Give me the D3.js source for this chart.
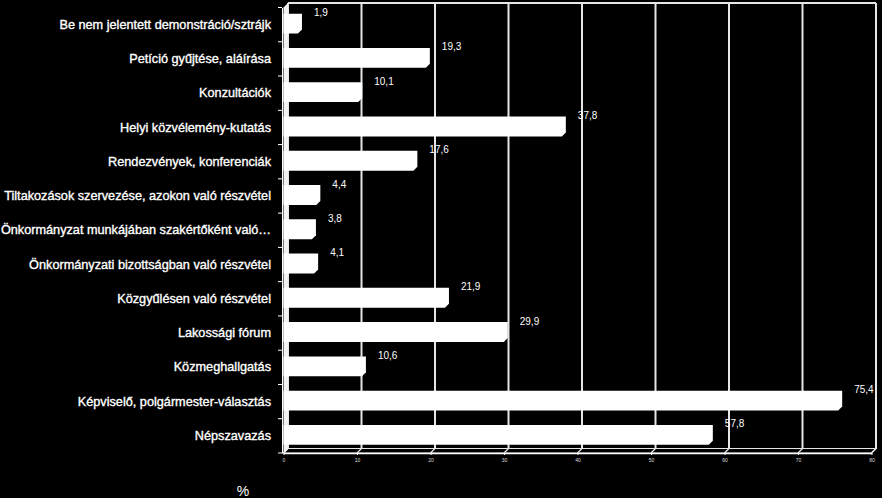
<!DOCTYPE html>
<html>
<head>
<meta charset="utf-8">
<script src="https://cdn.jsdelivr.net/npm/d3@7"></script>
<style>
  html, body { margin: 0; padding: 0; background: #000; }
  svg { display: block; }
</style>
</head>
<body>
<div id="chart"></div>
<script>
// data
const categories = [
  "Be nem jelentett demonstráció/sztrájk",
  "Petíció gyűjtése, aláírása",
  "Konzultációk",
  "Helyi közvélemény-kutatás",
  "Rendezvények, konferenciák",
  "Tiltakozások szervezése, azokon való részvétel",
  "Önkormányzat munkájában szakértőként való…",
  "Önkormányzati bizottságban való részvétel",
  "Közgyűlésen való részvétel",
  "Lakossági fórum",
  "Közmeghallgatás",
  "Képviselő, polgármester-választás",
  "Népszavazás"
];
const values = [1.9, 19.3, 10.1, 37.8, 17.6, 4.4, 3.8, 4.1, 21.9, 29.9, 10.6, 75.4, 57.8];
const xTicks = [0, 10, 20, 30, 40, 50, 60, 70, 80];
const axisTitle = "%";

const width = 882, height = 498;
const svg = d3.select("#chart").append("svg")
    .attr("width", width)
    .attr("height", height);

svg.append("rect").attr("width", width).attr("height", height).attr("fill", "#000");

// 3d depth: back wall is shifted right/up from the front plane
const dx = 4.5, dy = 4.5;
const plotTop = 7.5, plotBottom = 453;

const xFront = d3.scaleLinear().domain([0, 80]).range([283.5, 871.5]);
const xBack = d3.scaleLinear().domain([0, 80]).range([283.5 + dx, 871.5 + dx]);
const y = d3.scaleBand().domain(categories).range([plotTop, plotBottom])
    .paddingInner(0.42).paddingOuter(0.21);

const gridColor = "#e6e6e6";

// back wall gridlines
svg.append("g")
  .selectAll("line")
  .data(xTicks).enter()
  .append("line")
    .attr("x1", d => xBack(d)).attr("x2", d => xBack(d))
    .attr("y1", plotTop - dy).attr("y2", plotBottom - dy)
    .attr("stroke", gridColor)
    .attr("stroke-width", 2);

svg.append("line")
    .attr("x1", xBack(0)).attr("x2", xBack(80))
    .attr("y1", plotTop - dy).attr("y2", plotTop - dy)
    .attr("stroke", gridColor)
    .attr("stroke-width", 2);

// floor
svg.append("path")
    .attr("d", `M${xBack(0)},${plotBottom - dy} H${xBack(80)} L${xFront(80)},${plotBottom} H${xFront(0)} Z`)
    .attr("fill", "#000")
    .attr("stroke", gridColor)
    .attr("stroke-width", 1.2);
svg.append("g")
  .selectAll("line")
  .data(xTicks).enter()
  .append("line")
    .attr("x1", d => xBack(d)).attr("x2", d => xFront(d))
    .attr("y1", plotBottom - dy).attr("y2", plotBottom)
    .attr("stroke", gridColor)
    .attr("stroke-width", 1.2);

// left side wall
svg.append("path")
    .attr("d", `M${xFront(0)},${plotTop} L${xBack(0)},${plotTop - dy} V${plotBottom - dy} L${xFront(0)},${plotBottom} Z`)
    .attr("fill", "#f2f2f2");

// bars (white boxes, chamfered lower right corner = visible depth)
const cut = 4;
svg.append("g")
  .selectAll("path")
  .data(values).enter()
  .append("path")
    .attr("fill", "#fff")
    .attr("d", (d, i) => {
      const t = y(categories[i]) - 1;
      const b = t + y.bandwidth();
      const x0 = xFront(0), x1 = xBack(d);
      return `M${x0},${t} H${x1} V${b - cut} L${x1 - cut},${b} H${x0} Z`;
    });

// value labels
svg.append("g")
  .selectAll("text")
  .data(values).enter()
  .append("text")
    .attr("x", d => xBack(d) + 12)
    .attr("y", (d, i) => y(categories[i]) - 2)
    .attr("dy", "0.35em")
    .attr("fill", "#fff")
    .style("font-family", "'Liberation Sans', Arial, sans-serif")
    .style("font-size", "10px")
    .text(d => String(d).replace(".", ","));

// category axis
const yAxis = svg.append("g")
    .attr("transform", `translate(${xFront(0) - 1.5},0)`)
    .call(d3.axisLeft(y).tickSize(0).tickPadding(11).tickSizeOuter(0));
yAxis.select(".domain").attr("stroke", "#fff").attr("stroke-width", 1);
yAxis.selectAll("text")
    .attr("fill", "#fff")
    .attr("stroke", "#fff")
    .attr("stroke-width", 0.35)
    .style("font-family", "'Liberation Sans', Arial, sans-serif")
    .style("font-size", "12.7px");

// category ticks between bands
svg.append("g")
  .selectAll("line")
  .data(d3.range(categories.length + 1)).enter()
  .append("line")
    .attr("x1", xFront(0) - 5.5).attr("x2", xFront(0) - 1.5)
    .attr("y1", i => plotTop + i * y.step()).attr("y2", i => plotTop + i * y.step())
    .attr("stroke", "#fff");

// value axis
const xAxis = svg.append("g")
    .attr("transform", `translate(0,${plotBottom})`)
    .call(d3.axisBottom(xFront).tickValues(xTicks).tickSize(2).tickPadding(3).tickSizeOuter(0));
xAxis.select(".domain").attr("stroke", "#fff").attr("stroke-width", 1.5);
xAxis.selectAll(".tick line").attr("stroke", "#fff");
xAxis.selectAll("text")
    .attr("fill", "#ddd")
    .style("font-family", "'Liberation Sans', Arial, sans-serif")
    .style("font-size", "5px");

svg.append("text")
    .attr("x", 243)
    .attr("y", 491)
    .attr("dy", "0.35em")
    .attr("text-anchor", "middle")
    .attr("fill", "#fff")
    .style("font-family", "'Liberation Sans', Arial, sans-serif")
    .style("font-size", "14px")
    .text(axisTitle);
</script>
</body>
</html>
